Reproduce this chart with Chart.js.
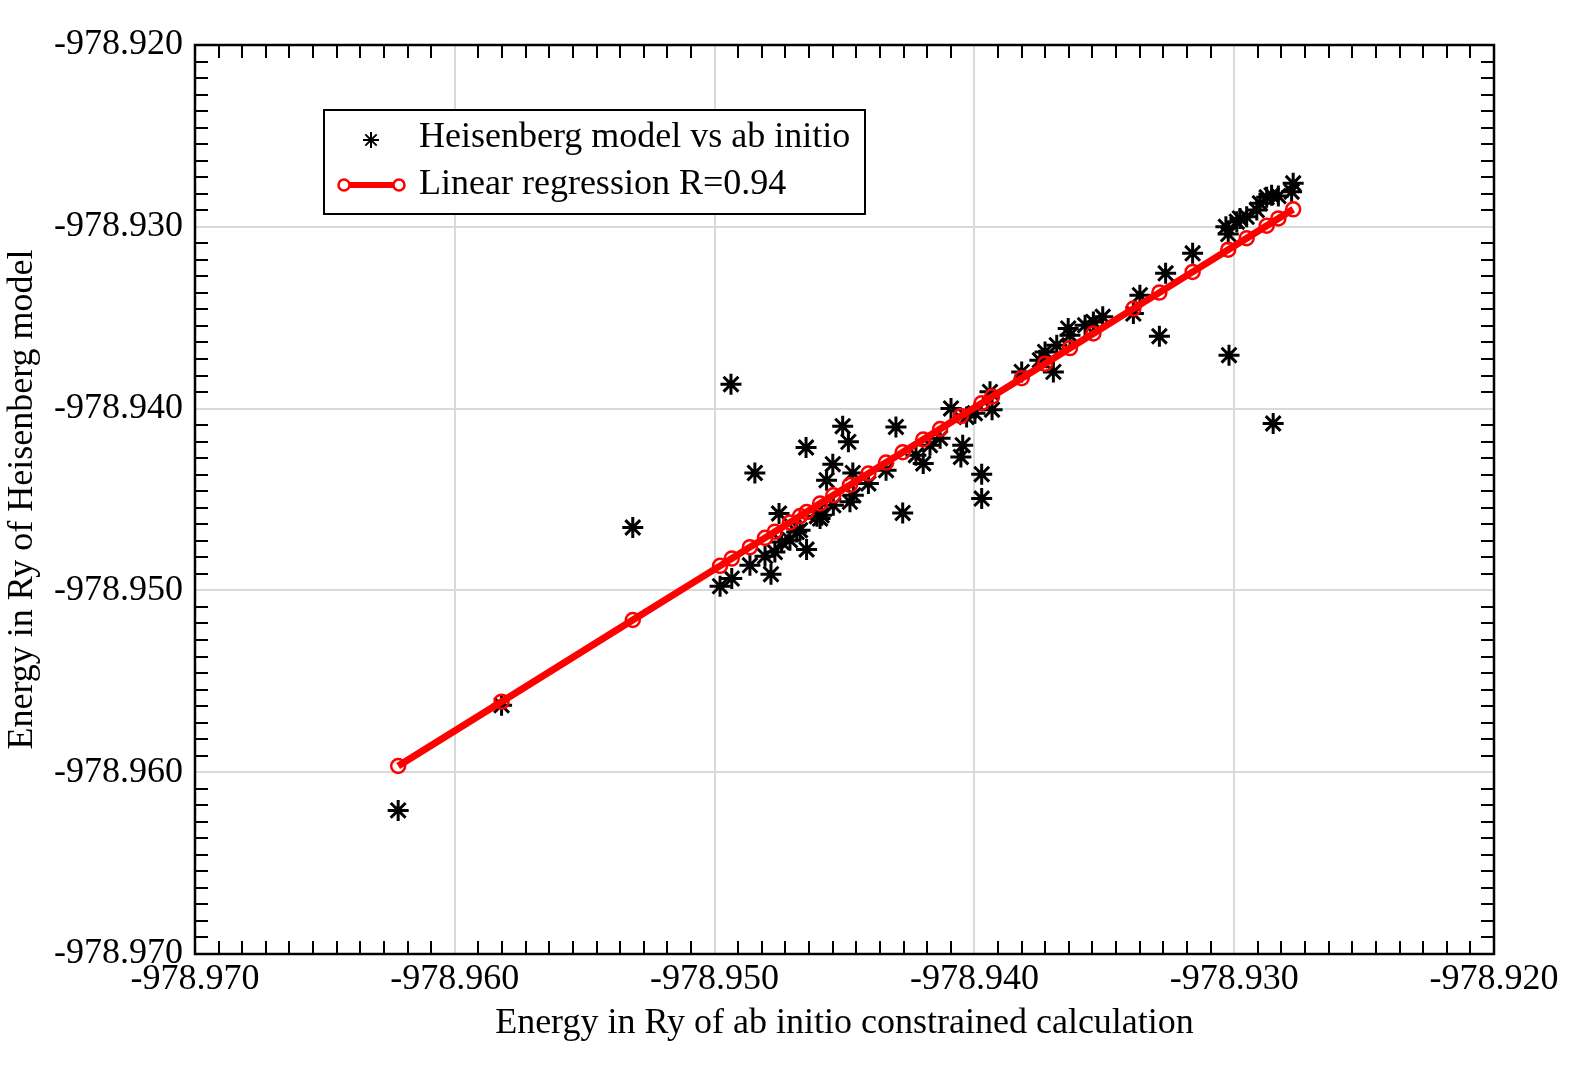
<!DOCTYPE html>
<html>
<head>
<meta charset="utf-8">
<script src="https://cdn.jsdelivr.net/npm/chart.js@4.4.1/dist/chart.umd.min.js"></script>
<style>
  html, body { margin: 0; padding: 0; background: #fff; }
  #wrap { width: 1574px; height: 1071px; position: relative; }
</style>
</head>
<body>
<div id="wrap"><canvas id="chart"></canvas></div>
<script>
// energies (Ry)
const abInitio = [
  -978.96218, -978.95820, -978.95315, -978.94979, -978.94934, -978.94937, -978.94864, -978.94783,
  -978.94806, -978.94768, -978.94742, -978.94710, -978.94684, -978.94671, -978.94646, -978.94752,
  -978.94594, -978.94588, -978.94606, -978.94543, -978.94479, -978.94466, -978.94408, -978.94569,
  -978.94507, -978.94302, -978.94485, -978.94648, -978.94845, -978.94545, -978.94468, -978.94340,
  -978.94197, -978.94225, -978.94276, -978.94090, -978.93932, -978.93940, -978.94045, -978.94052,
  -978.93972, -978.93972, -978.94171, -978.94132, -978.94030, -978.93998, -978.93818, -978.93696,
  -978.93748, -978.93728, -978.93683, -978.93632, -978.93639, -978.93574, -978.93542, -978.93506,
  -978.93388, -978.93363, -978.93288, -978.93264, -978.93160, -978.93032, -978.93023, -978.93020,
  -978.92990, -978.92978, -978.92952, -978.92913, -978.92901, -978.92875, -978.92856, -978.92830,
  -978.92779, -978.92773, -978.92850
];
const heisenberg = [
  -978.96210, -978.95632, -978.94654, -978.94977, -978.94935, -978.93866, -978.94862, -978.94911,
  -978.94812, -978.94789, -978.94734, -978.94724, -978.94679, -978.94669, -978.94775, -978.94577,
  -978.94605, -978.94587, -978.94592, -978.94532, -978.94513, -978.94477, -978.94412, -978.94394,
  -978.94097, -978.94101, -978.94183, -978.94214, -978.94354, -978.94306, -978.94354, -978.94339,
  -978.94302, -978.94256, -978.94574, -978.93999, -978.94006, -978.93908, -978.94201, -978.94266,
  -978.94361, -978.94495, -978.94201, -978.94163, -978.94046, -978.94025, -978.93798, -978.93798,
  -978.93734, -978.93688, -978.93651, -978.93596, -978.93559, -978.93541, -978.93523, -978.93495,
  -978.93477, -978.93376, -978.93602, -978.93256, -978.93146, -978.93000, -978.93040, -978.93706,
  -978.92972, -978.92954, -978.92945, -978.92908, -978.92871, -978.92838, -978.92826, -978.92831,
  -978.92807, -978.92761, -978.94082
];

// regression markers
const fitX = [
  -978.96218, -978.95820, -978.95315, -978.94979, -978.94934, -978.94864, -978.94806, -978.94768,
  -978.94710, -978.94671, -978.94646, -978.94594, -978.94543, -978.94479, -978.94408, -978.94340,
  -978.94276, -978.94197, -978.94132, -978.94052, -978.93972, -978.93932, -978.93818, -978.93728,
  -978.93632, -978.93542, -978.93388, -978.93288, -978.93160, -978.93023, -978.92952, -978.92875,
  -978.92830, -978.92773
];
const fitY = [
  -978.95966, -978.95612, -978.95163, -978.94865, -978.94825, -978.94762, -978.94711, -978.94677,
  -978.94626, -978.94591, -978.94569, -978.94522, -978.94477, -978.94420, -978.94357, -978.94297,
  -978.94240, -978.94170, -978.94112, -978.94041, -978.93970, -978.93934, -978.93833, -978.93753,
  -978.93667, -978.93587, -978.93450, -978.93362, -978.93248, -978.93126, -978.93063, -978.92994,
  -978.92954, -978.92904
];

const xTickValues = [-978.970, -978.960, -978.950, -978.940, -978.930, -978.920];
const yTickValues = [-978.970, -978.960, -978.950, -978.940, -978.930, -978.920];
const minorPerMajor = 10;

const scatterLabel = "Heisenberg model vs ab initio";
const fitLabel = "Linear regression R=0.94";

const FONT = '"Liberation Serif", "Times New Roman", serif';

// frame, inward minor ticks and boxed legend
const framePlugin = {
  id: "frame",
  afterDraw(chart) {
    const ctx = chart.ctx;
    const a = chart.chartArea;
    const xs = chart.scales.x, ys = chart.scales.y;
    const len = 13;
    ctx.save();
    ctx.strokeStyle = "#000";
    ctx.lineWidth = 2;
    ctx.beginPath();
    for (let i = 0; i < xTickValues.length - 1; i++) {
      const step = (xTickValues[i + 1] - xTickValues[i]) / (minorPerMajor + 1);
      for (let k = 1; k <= minorPerMajor; k++) {
        const px = Math.round(xs.getPixelForValue(xTickValues[i] + k * step));
        ctx.moveTo(px, a.bottom); ctx.lineTo(px, a.bottom - len);
        ctx.moveTo(px, a.top); ctx.lineTo(px, a.top + len);
      }
    }
    for (let i = 0; i < yTickValues.length - 1; i++) {
      const step = (yTickValues[i + 1] - yTickValues[i]) / (minorPerMajor + 1);
      for (let k = 1; k <= minorPerMajor; k++) {
        const py = Math.round(ys.getPixelForValue(yTickValues[i] + k * step));
        ctx.moveTo(a.left, py); ctx.lineTo(a.left + len, py);
        ctx.moveTo(a.right, py); ctx.lineTo(a.right - len, py);
      }
    }
    ctx.stroke();
    ctx.lineWidth = 2.5;
    ctx.strokeRect(a.left, a.top, a.right - a.left, a.bottom - a.top);

    // legend box
    const bx = a.left + 129, by = a.top + 65, bw = 541, bh = 104;
    ctx.fillStyle = "#fff";
    ctx.fillRect(bx, by, bw, bh);
    ctx.lineWidth = 2;
    ctx.strokeRect(bx, by, bw, bh);
    const row1 = by + 28, row2 = by + 75;
    ctx.strokeStyle = "#000";
    ctx.fillStyle = "#000";
    Chart.helpers.drawPoint(ctx, { pointStyle: "star", radius: 8, rotation: 0, borderWidth: 2.5 }, bx + 47, row1 + 2);
    ctx.strokeStyle = "#ff0000";
    ctx.lineWidth = 6;
    ctx.beginPath();
    ctx.moveTo(bx + 20, row2); ctx.lineTo(bx + 75, row2);
    ctx.stroke();
    ctx.lineWidth = 2.5;
    ctx.fillStyle = "#fff";
    [bx + 20, bx + 75].forEach(cx => {
      ctx.beginPath();
      ctx.arc(cx, row2, 5.5, 0, Math.PI * 2);
      ctx.fill();
      ctx.stroke();
    });
    ctx.fillStyle = "#000";
    ctx.font = "36px " + FONT;
    ctx.textBaseline = "middle";
    ctx.textAlign = "left";
    ctx.fillText(scatterLabel, bx + 95, row1);
    ctx.fillText(fitLabel, bx + 95, row2);
    ctx.restore();
  }
};

const ctx = document.getElementById("chart").getContext("2d");
new Chart(ctx, {
  type: "scatter",
  data: {
    datasets: [
      {
        label: fitLabel,
        data: fitX.map((x, i) => ({ x: x, y: fitY[i] })),
        showLine: true,
        borderColor: "#ff0000",
        borderWidth: 7,
        pointStyle: "circle",
        pointRadius: 7,
        pointBorderWidth: 2.5,
        pointBorderColor: "#ff0000",
        pointBackgroundColor: "rgba(255,255,255,0)",
        order: 0
      },
      {
        label: scatterLabel,
        data: abInitio.map((x, i) => ({ x: x, y: heisenberg[i] })),
        pointStyle: "star",
        pointRadius: 10.5,
        pointBorderWidth: 3,
        borderColor: "#000",
        backgroundColor: "#000",
        order: 1
      }
    ]
  },
  options: {
    responsive: true,
    maintainAspectRatio: false,
    animation: false,
    layout: { padding: { left: 0, top: 45, right: 80, bottom: 0 } },
    scales: {
      x: {
        type: "linear",
        min: -978.970,
        max: -978.920,
        afterBuildTicks: scale => { scale.ticks = xTickValues.map(v => ({ value: v })); },
        afterFit: scale => { scale.height = 117; },
        ticks: {
          autoSkip: false,
          maxRotation: 0,
          padding: 4,
          color: "#000",
          font: { family: FONT, size: 36 },
          callback: v => v.toFixed(3)
        },
        grid: { color: "#d9d9d9", lineWidth: 2, drawTicks: false },
        border: { display: false },
        title: {
          display: true,
          text: "Energy in Ry of ab initio constrained calculation",
          color: "#000",
          font: { family: FONT, size: 36 },
          padding: { top: 0, bottom: 26 }
        }
      },
      y: {
        type: "linear",
        min: -978.970,
        max: -978.920,
        afterBuildTicks: scale => { scale.ticks = yTickValues.map(v => ({ value: v })); },
        afterFit: scale => { scale.width = 195; },
        ticks: {
          autoSkip: false,
          padding: 12,
          color: "#000",
          font: { family: FONT, size: 36 },
          callback: v => v.toFixed(3)
        },
        grid: { color: "#d9d9d9", lineWidth: 2, drawTicks: false },
        border: { display: false },
        title: {
          display: true,
          text: "Energy in Ry of Heisenberg model",
          color: "#000",
          font: { family: FONT, size: 36 },
          padding: { top: 1, bottom: 0 }
        }
      }
    },
    plugins: {
      legend: { display: false },
      tooltip: { enabled: false }
    }
  },
  plugins: [framePlugin]
});
</script>
</body>
</html>
